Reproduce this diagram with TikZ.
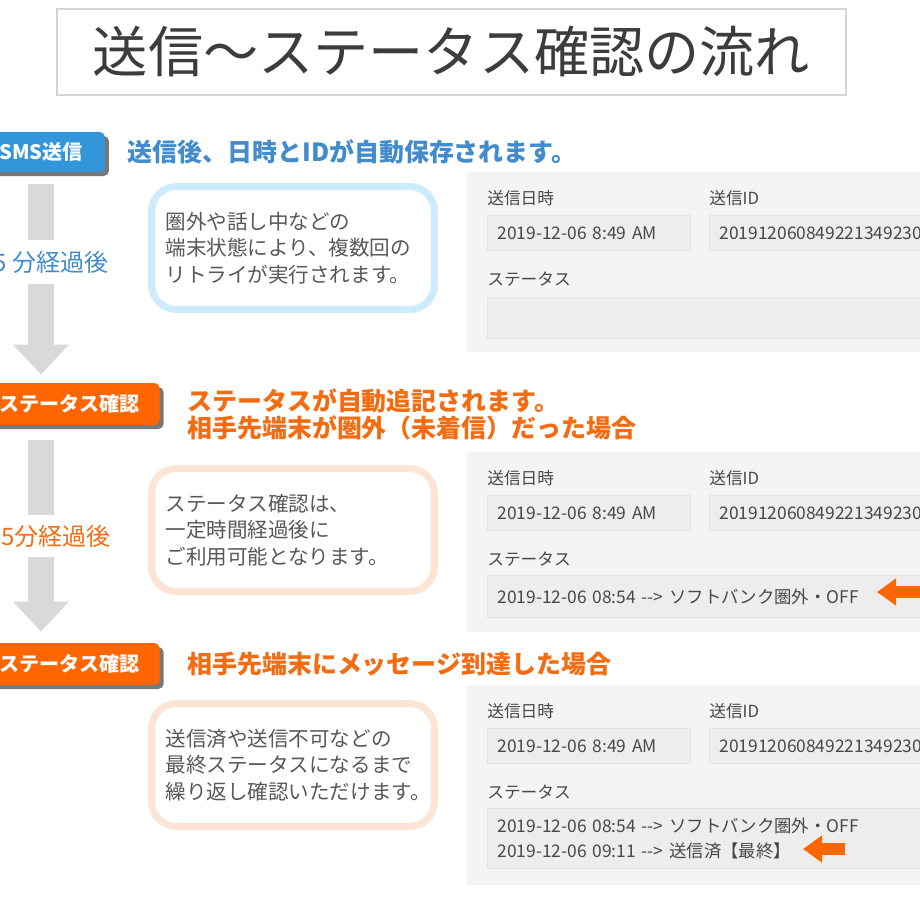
\documentclass[tikz,border=0pt]{standalone}
\usepackage{fontspec}
\setmainfont{Noto Sans CJK JP}
\usetikzlibrary{positioning,arrows.meta,shadows}
\definecolor{SkyBlue}{RGB}{52,150,218}
\definecolor{HeadBlue}{RGB}{66,140,206}
\definecolor{Signal}{RGB}{255,102,0}
\definecolor{HeadOrange}{RGB}{244,108,18}
\definecolor{NoteBlue}{RGB}{206,235,251}
\definecolor{NotePeach}{RGB}{253,229,214}
\definecolor{PanelGrey}{RGB}{244,244,244}
\definecolor{FieldGrey}{RGB}{237,237,237}
\definecolor{FieldLine}{RGB}{228,228,228}
\definecolor{ArrowGrey}{RGB}{217,217,217}
\definecolor{TitleLine}{RGB}{212,212,212}
\definecolor{TitleInk}{RGB}{60,60,60}
\definecolor{NoteInk}{RGB}{88,88,88}
\definecolor{FormInk}{RGB}{72,72,72}
\tikzset{
  titlebox/.style={draw=TitleLine,line width=1.1pt,fill=white,minimum width=15.78cm,
    minimum height=1.72cm,text=TitleInk,font=\fontsize{31.4}{36}\selectfont},
  smsbadge/.style={fill=SkyBlue,rounded corners=3pt,text=white,minimum height=0.8cm,
    font=\fontsize{11.4}{13}\selectfont\bfseries,
    drop shadow={shadow xshift=0.08cm,shadow yshift=-0.08cm,fill=black!70,opacity=.75}},
  chkbadge/.style={smsbadge,fill=Signal,inner xsep=0.4cm,minimum height=0.84cm},
  bluehead/.style={inner sep=0pt,text=HeadBlue,font=\fontsize{14.2}{15.4}\selectfont\bfseries},
  orangehead/.style={bluehead,text=HeadOrange,align=left},
  bluenote/.style={draw=NoteBlue,line width=0.14cm,rounded corners=0.5cm,fill=white,
    minimum width=5.66cm,minimum height=2.46cm,text width=5.1cm,align=left,
    text=NoteInk,font=\fontsize{11.7}{15.1}\selectfont},
  orangenote/.style={bluenote,draw=NotePeach},
  panel/.style={fill=PanelGrey,anchor=north west,minimum width=10cm,inner sep=0pt},
  fieldlabel/.style={anchor=west,inner sep=0pt,text=FormInk,font=\fontsize{9.5}{13.7}\selectfont},
  field/.style={fill=FieldGrey,draw=FieldLine,line width=0.5pt,anchor=north west,
    inner xsep=0.2cm,align=left,text=FormInk,font=\fontsize{9.9}{13.7}\selectfont},
  bigarrow/.style={draw=ArrowGrey,line width=0.52cm,-{Triangle[length=0.6cm,width=1.08cm]}},
  markarrow/.style={draw=Signal,line width=0.24cm,-{Triangle[length=0.38cm,width=0.52cm]}},
  waitlabel/.style={fill=white,inner xsep=0pt,font=\fontsize{13.7}{16}\selectfont}
}

\begin{document}
\begin{tikzpicture}[x=0.02cm,y=-0.02cm]
  \useasboundingbox (0,0) rectangle (920,920);
  \clip (0,0) rectangle (920,920);
  \fill[white] (0,0) rectangle (920,920);

  \node[titlebox] (title) at (451.5,52) {送信〜ステータス確認の流れ};

  % steps on the left
  \node[smsbadge,minimum width=2.56cm] (sms) at (41,152) {SMS送信};
  \node[chkbadge,anchor=east] (chk1) at (160,404) {ステータス確認};
  \node[chkbadge,anchor=east] (chk2) at (160,664) {ステータス確認};

  \draw[bigarrow,shorten <=0.24cm,shorten >=0.16cm] (sms.south) -- (sms.south |- chk1.north);
  \draw[bigarrow,shorten <=0.3cm,shorten >=0.22cm] (sms.south |- chk1.south) -- (sms.south |- chk2.north);
  \node[waitlabel,minimum height=0.88cm,text=HeadBlue] (wait1) at (51,262) {5 分経過後};
  \node[waitlabel,minimum height=0.84cm,text=HeadOrange] (wait2) at (56,536) {5分経過後};

  \node[bluehead,right=0.44cm of sms] (head1) {送信後、日時とIDが自動保存されます。};
  \node[orangehead,right=0.54cm of chk1,yshift=-0.2cm] (head2)
    {ステータスが自動追記されます。\\相手先端末が圏外（未着信）だった場合};
  \node[orangehead,right=0.54cm of chk2] (head3) {相手先端末にメッセージ到達した場合};

  % notes
  \node[bluenote] (note1) at (293,248) {圏外や話し中などの\\端末状態により、複数回の\\リトライが実行されます。};
  \node[orangenote] (note2) at (293,530) {ステータス確認は、\\一定時間経過後に\\ご利用可能となります。};
  \node[orangenote] (note3) at (293,765) {送信済や送信不可などの\\最終ステータスになるまで\\繰り返し確認いただけます。};

  % form panels
  \foreach \n/\top/\h in {1/172/3.6cm,2/452/3.6cm,3/685/4cm}{
    \begin{scope}[shift={(0,\top)}]
      \node[panel,minimum height=\h] (panel\n) at (467,0) {};
      \node[fieldlabel] (datelabel\n) at (487,26) {送信日時};
      \node[fieldlabel] (idlabel\n) at (709,26) {送信ID};
      \node[field,text width=3.66cm,minimum height=0.7cm] (date\n) at (487,43) {2019-12-06 8:49 AM};
      \node[field,text width=5.6cm,minimum height=0.7cm] (id\n) at (709,43) {201912060849221349230};
      \node[fieldlabel] (statuslabel\n) at (487,107) {ステータス};
    \end{scope}
  }
  \node[field,text width=9.6cm,minimum height=0.82cm] (status1) at (487,297) {};
  \node[field,text width=9.6cm,minimum height=0.84cm] (status2) at (487,575)
    {2019-12-06 08:54 -{}-> ソフトバンク圏外・OFF};
  \node[field,text width=9.6cm,minimum height=1.2cm] (status3) at (487,808)
    {2019-12-06 08:54 -{}-> ソフトバンク圏外・OFF\\2019-12-06 09:11 -{}-> 送信済【最終】};

  \coordinate (mark2a) at (940,592);
  \coordinate (mark2b) at (877,592);
  \draw[markarrow] (mark2a) -- (mark2b);
  \coordinate (mark3a) at (845,849);
  \coordinate (mark3b) at (803,849);
  \draw[markarrow] (mark3a) -- (mark3b);
\end{tikzpicture}
\end{document}
